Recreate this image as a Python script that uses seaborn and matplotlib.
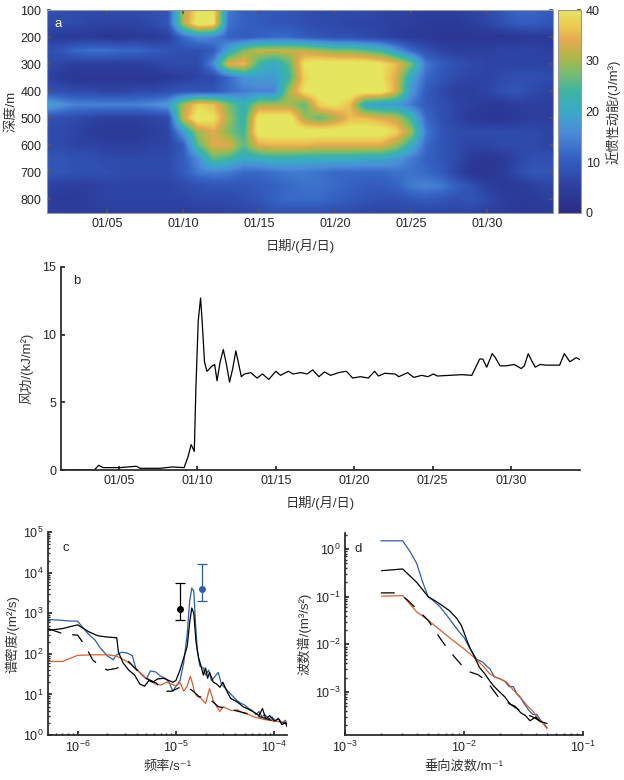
import numpy as np
import pandas as pd
import matplotlib
matplotlib.use("Agg")
import matplotlib.pyplot as plt
import seaborn as sns
from matplotlib.colors import LinearSegmentedColormap
from matplotlib.ticker import LogLocator, NullFormatter, FixedLocator, LogFormatterSciNotation

sns.set_theme(style="ticks")
plt.rcParams["font.family"] = ["Liberation Sans", "Noto Sans CJK SC", "DejaVu Sans"]
plt.rcParams["mathtext.fontset"] = "custom"
plt.rcParams["mathtext.rm"] = "Liberation Sans"
plt.rcParams["mathtext.it"] = "Liberation Sans:italic"
plt.rcParams["mathtext.bf"] = "Liberation Sans:bold"
plt.rcParams["lines.scale_dashes"] = False
plt.rcParams["xtick.direction"] = "in"
plt.rcParams["ytick.direction"] = "in"

# ---------------- data: panel a (near-inertial KE, J/m^3) ----------------
depths = [100, 150, 200, 250, 300, 350, 400, 450, 500, 550, 600, 650, 700, 750, 800, 850]
days = list(range(1, 36))
ke_100 = [8,8,7,7,7,7,7,8,9,30,40,40,14,11,10,9,9,8,7,7,7,7,6,6,5,5,5,5,6,7,9,12,12,10,9]
ke_150 = [7,7,7,6,6,6,6,7,9,30,42,40,13,11,10,9,9,8,7,7,6,6,6,5,5,4,4,4,5,6,8,10,10,9,8]
ke_200 = [5,4,4,4,3,3,4,4,5,12,16,15,11,10,11,12,12,10,9,8,8,7,6,5,4,4,3,3,3,3,3,3,4,4,4]
ke_250 = [8,9,12,13,13,12,12,10,9,8,8,10,20,28,32,32,32,32,30,28,28,26,24,18,12,8,6,5,5,5,6,6,6,5,5]
ke_300 = [7,6,5,5,5,5,5,6,7,7,7,16,34,36,24,20,26,40,42,42,42,42,40,36,28,14,10,8,7,6,6,6,6,6,6]
ke_350 = [6,4,3,3,3,3,3,3,4,5,6,7,12,17,18,18,24,38,42,42,42,42,40,34,20,12,9,7,6,6,7,8,8,7,7]
ke_400 = [8,8,7,7,6,6,7,7,8,9,9,9,12,14,15,15,30,40,42,42,42,42,42,34,18,10,7,5,5,6,8,9,7,6,6]
ke_450 = [20,17,15,15,15,15,15,16,18,30,38,36,28,22,30,30,30,26,38,40,36,20,18,18,14,10,8,6,5,4,4,5,5,5,5]
ke_500 = [8,8,7,6,5,5,5,6,7,32,42,40,30,22,42,42,42,30,26,30,36,36,34,32,24,12,8,6,4,3,3,4,5,5,5]
ke_550 = [7,7,6,4,4,4,4,5,6,18,30,34,28,24,42,42,42,42,42,42,42,42,42,38,30,14,9,7,7,7,7,7,7,6,6]
ke_600 = [7,7,6,6,5,5,5,6,6,10,26,34,34,26,34,35,35,35,34,34,34,34,34,30,22,12,9,7,6,6,7,7,7,6,6]
ke_650 = [9,9,8,8,7,7,7,7,7,10,16,26,24,20,21,22,22,21,21,21,21,20,20,18,14,11,9,7,4,3,4,6,8,8,7]
ke_700 = [9,9,8,8,8,7,7,7,7,10,14,15,14,12,12,13,14,14,13,12,12,12,12,13,13,12,10,6,3,3,4,7,9,9,8]
ke_750 = [6,5,5,5,6,6,6,6,6,7,8,9,9,9,10,11,12,13,13,12,11,10,10,11,14,15,14,11,8,5,4,4,5,6,6]
ke_800 = [5,4,4,5,6,6,6,6,6,6,7,7,7,8,9,11,12,12,12,11,10,9,8,8,9,10,9,8,9,7,5,4,4,5,5]
ke_850 = [5,5,5,5,5,5,5,5,5,5,5,5,6,6,7,8,8,8,8,7,7,6,6,6,6,6,6,6,6,5,5,4,4,4,4]

date_ticks = [5, 10, 15, 20, 25, 30]
date_labels = ["01/05", "01/10", "01/15", "01/20", "01/25", "01/30"]

# ---------------- data: panel b (wind work, kJ/m^2) ----------------
wind_day = [1.33, 2.5, 3.4, 3.7, 4.0, 5.05, 6.1, 6.35, 7.6, 8.4, 9.15, 9.4, 9.6, 9.8, 9.9, 10.05,
            10.2, 10.3, 10.45, 10.6, 10.7, 10.95, 11.1, 11.25, 11.45, 11.65, 11.85, 12.05, 12.25,
            12.45, 12.6, 12.8, 13.0, 13.4, 13.8, 14.15, 14.55, 15.0, 15.3, 15.8, 16.1, 16.6, 17.0,
            17.35, 17.75, 18.1, 18.5, 19.0, 19.5, 19.9, 20.4, 20.9, 21.3, 21.55, 21.95, 22.6, 22.85,
            23.4, 23.8, 24.3, 24.7, 25.05, 25.3, 26.1, 26.85, 27.5, 27.75, 28.0, 28.2, 28.45, 28.8,
            29.0, 29.3, 29.7, 30.2, 30.65, 30.85, 31.1, 31.35, 31.55, 31.85, 32.25, 33.1, 33.4,
            33.75, 34.15, 34.5]
wind_work = [0.0, 0.05, 0.0, 0.37, 0.2, 0.2, 0.3, 0.15, 0.15, 0.25, 0.2, 1.0, 1.9, 1.4, 6.0, 11.0,
             12.7, 11.0, 8.0, 7.3, 7.4, 7.7, 7.8, 6.6, 8.0, 8.9, 7.8, 6.5, 7.5,
             8.8, 8.0, 6.9, 7.1, 7.2, 6.8, 7.1, 6.7, 7.3, 7.0, 7.3, 7.1, 7.2, 7.1,
             7.4, 6.9, 7.25, 7.0, 7.2, 7.3, 6.8, 6.9, 6.8, 7.3, 6.95, 7.15, 7.1, 6.9,
             7.2, 6.85, 7.0, 6.9, 7.1, 6.95, 7.0, 7.05, 7.0, 7.6, 8.2, 8.2, 7.6, 8.6,
             8.3, 7.7, 7.7, 7.8, 7.5, 7.7, 8.6, 8.0, 7.6, 7.8, 7.75, 7.75, 8.6,
             8.0, 8.3, 8.1]

# ---------------- data: panel c (frequency spectra) ----------------
fc_blue = [5e-7, 6e-7, 8e-7, 1.0e-6, 1.15e-6, 1.3e-6, 1.5e-6, 1.7e-6, 2.0e-6, 2.3e-6, 2.5e-6, 2.8e-6,
           3.2e-6, 3.6e-6, 3.9e-6, 4.5e-6, 5.0e-6, 5.5e-6, 6.2e-6, 7.0e-6, 7.8e-6, 8.5e-6, 9.3e-6,
           1.0e-5, 1.1e-5, 1.2e-5, 1.3e-5, 1.38e-5, 1.45e-5, 1.52e-5, 1.58e-5, 1.65e-5, 1.75e-5,
           1.9e-5, 2.0e-5, 2.15e-5, 2.3e-5, 2.5e-5, 2.7e-5, 2.9e-5, 3.2e-5, 3.5e-5, 3.8e-5, 4.2e-5,
           4.6e-5, 5.0e-5, 5.5e-5, 6.0e-5, 6.5e-5, 7.0e-5, 7.5e-5, 8.0e-5, 8.8e-5, 9.5e-5, 1.03e-4,
           1.1e-4, 1.2e-4, 1.3e-4, 1.35e-4]
sc_blue = [700, 690, 650, 640, 420, 300, 220, 140, 90, 72, 95, 110,
           105, 90, 45, 30, 24, 38, 36, 28, 25, 20, 12,
           16, 22, 60, 300, 2000, 4200, 3500, 600, 120, 50,
           45, 30, 40, 22, 28, 35, 18, 14, 11, 9, 7,
           6, 5.5, 4.5, 4, 3.2, 3.8, 2.8, 3.2, 2.5, 2.8, 2.2,
           2.6, 2.0, 2.3, 1.8]
fc_black = [5e-7, 7e-7, 1.0e-6, 1.3e-6, 1.6e-6, 2.0e-6, 2.5e-6, 2.6e-6, 2.9e-6, 3.3e-6, 3.8e-6, 4.3e-6,
            4.8e-6, 5.3e-6, 5.8e-6, 6.5e-6, 7.5e-6, 8.5e-6, 9.3e-6, 1.0e-5, 1.1e-5, 1.2e-5, 1.3e-5,
            1.38e-5, 1.45e-5, 1.52e-5, 1.6e-5, 1.7e-5, 1.8e-5, 1.9e-5, 2.0e-5, 2.1e-5, 2.2e-5, 2.4e-5,
            2.6e-5, 2.8e-5, 3.0e-5, 3.3e-5, 3.6e-5, 4.0e-5, 4.4e-5, 4.8e-5, 5.3e-5, 5.8e-5, 6.4e-5,
            7.0e-5, 7.6e-5, 8.2e-5, 9.0e-5, 1.0e-4, 1.1e-4, 1.2e-4, 1.3e-4, 1.35e-4]
sc_black = [380, 420, 520, 350, 280, 260, 250, 110, 60, 40, 30, 18,
            16, 22, 20, 24, 25, 22, 20, 22, 40, 80, 150,
            600, 1350, 1000, 200, 80, 50, 30, 45, 25, 35, 20,
            18, 15, 20, 12, 8, 7, 6, 5, 4.5, 4, 3.5,
            3, 4.5, 2.5, 3, 2.2, 2.5, 1.8, 2.0, 1.6]
fc_orange = [5e-7, 7e-7, 1.0e-6, 1.5e-6, 2.0e-6, 2.5e-6, 3.0e-6, 3.5e-6, 4.0e-6, 4.5e-6, 5.0e-6, 5.5e-6,
             6.2e-6, 7.0e-6, 8.0e-6, 9.0e-6, 1.0e-5, 1.1e-5, 1.2e-5, 1.3e-5, 1.4e-5, 1.48e-5, 1.55e-5,
             1.65e-5, 1.8e-5, 2.0e-5, 2.2e-5, 2.4e-5, 2.6e-5, 2.8e-5, 3.0e-5, 3.3e-5, 3.7e-5, 4.2e-5,
             4.8e-5, 5.5e-5, 6.2e-5, 7.0e-5, 8.0e-5, 9.0e-5, 1.0e-4, 1.15e-4, 1.35e-4]
sc_orange = [65, 65, 92, 95, 95, 88, 70, 55, 40, 32, 25, 22,
             18, 17, 20, 18, 16, 20, 12, 16, 28, 18, 11,
             9, 8, 6, 14, 7, 5, 3.8, 5, 4.5, 4, 4.2,
             3.5, 3.2, 2.8, 2.6, 2.4, 2.3, 2.2, 2.1, 2.0]
fc_dash = [5e-7, 6.8e-7, 8e-7, 1.0e-6, 1.18e-6, 1.43e-6, 1.74e-6, 2.0e-6, 2.5e-6, 3.3e-6, 4.0e-6, 5.0e-6,
           6.3e-6, 7.5e-6, 9.0e-6, 1.1e-5, 1.3e-5, 1.5e-5, 1.7e-5, 2.0e-5, 2.3e-5, 2.7e-5, 3.2e-5,
           4.0e-5, 5.0e-5, 6.5e-5, 8.0e-5, 1.0e-4, 1.35e-4]
sc_dash = [420, 325, 300, 290, 165, 70, 48, 40, 44, 65, 40, 25,
           19, 12, 12, 15, 15, 12, 9, 8, 7, 5, 4.5,
           4, 3.5, 3, 2.6, 2.2, 1.9]
err_f = [1.1e-5, 1.83e-5]
err_s = [1300, 4000]
err_lo = [680, 2050]
err_hi = [5500, 16000]

# ---------------- data: panel d (vertical wavenumber spectra) ----------------
kd_blue = [2.0e-3, 3.05e-3, 3.5e-3, 4e-3, 4.5e-3, 5e-3, 5.6e-3, 6.3e-3, 7.2e-3, 8.1e-3, 9e-3, 1e-2,
           1.1e-2, 1.2e-2, 1.28e-2, 1.35e-2, 1.45e-2, 1.55e-2, 1.65e-2, 1.8e-2, 2.0e-2, 2.2e-2,
           2.4e-2, 2.6e-2, 2.8e-2, 3.0e-2, 3.2e-2, 3.5e-2, 3.8e-2, 4.1e-2, 4.4e-2, 4.7e-2, 5e-2]
sd_blue = [1.48, 1.48, 0.9, 0.5, 0.2, 0.1, 0.08, 0.061, 0.04, 0.027, 0.019, 0.014,
           0.009, 0.0063, 0.0048, 0.0046, 0.0042, 0.0035, 0.0031, 0.0021, 0.0019, 0.0017,
           0.0013, 0.0013, 0.0009, 0.00075, 0.00058, 0.00042, 0.00034, 0.00034, 0.00026, 0.00022, 0.00018]
kd_black = [2.03e-3, 3.05e-3, 4e-3, 5e-3, 5.8e-3, 6.7e-3, 7.6e-3, 8.7e-3, 9.5e-3, 1e-2, 1.06e-2, 1.13e-2,
            1.25e-2, 1.35e-2, 1.5e-2, 1.65e-2, 1.8e-2, 2.0e-2, 2.2e-2, 2.45e-2, 2.7e-2, 3.0e-2,
            3.3e-2, 3.6e-2, 4.0e-2, 4.4e-2, 5e-2]
sd_black = [0.35, 0.38, 0.2, 0.1, 0.08, 0.063, 0.05, 0.035, 0.025, 0.018, 0.012, 0.0081,
            0.005, 0.0033, 0.0024, 0.0017, 0.0013, 0.001, 0.0008, 0.00056, 0.0005, 0.00037,
            0.00032, 0.00025, 0.0003, 0.00024, 0.00022]
kd_orange = [2.03e-3, 3.05e-3, 4e-3, 5e-3, 6.3e-3, 8.1e-3, 1e-2, 1.15e-2, 1.3e-2, 1.45e-2, 1.65e-2,
             1.8e-2, 2e-2, 2.3e-2, 2.6e-2, 2.9e-2, 3.4e-2, 3.8e-2, 4.1e-2, 4.5e-2, 5e-2]
sd_orange = [0.102, 0.105, 0.048, 0.032, 0.02, 0.012, 0.0081, 0.006, 0.0046, 0.0035, 0.0024,
             0.0021, 0.0019, 0.0016, 0.0011, 0.00085, 0.00052, 0.0004, 0.0003, 0.00024, 0.00017]
kd_dash = [2e-3, 2.8e-3, 3.35e-3, 4.1e-3, 5e-3, 5.9e-3, 7.1e-3, 8.3e-3, 1.05e-2, 1.32e-2, 1.55e-2,
           1.94e-2, 2.45e-2, 3e-2, 4e-2, 5e-2]
sd_dash = [0.12, 0.12, 0.085, 0.052, 0.032, 0.017, 0.0088, 0.0055, 0.0028, 0.0023, 0.0017,
           8e-4, 5.6e-4, 4e-4, 2.8e-4, 2e-4]

BLUE = "#2d5fa9"
ORANGE = "#d8602f"
LABEL_C = "#333333"

parula_like = LinearSegmentedColormap.from_list(
    "parula_like",
    [(0.00, "#2a2c82"), (0.12, "#2c3e9e"), (0.28, "#3563c4"), (0.40, "#4c8cd8"),
     (0.50, "#3aa9c9"), (0.60, "#3db5a2"), (0.70, "#80bc6b"), (0.76, "#aab84a"),
     (0.85, "#e2a94f"), (0.92, "#ecc852"), (1.00, "#e6e65e")])

fig = plt.figure(figsize=(6.24, 7.80), dpi=100)

# ---------------- panel a ----------------
axa = fig.add_axes([0.0753, 0.727, 0.8107, 0.260])
grid = np.array([ke_100, ke_150, ke_200, ke_250, ke_300, ke_350, ke_400, ke_450,
                 ke_500, ke_550, ke_600, ke_650, ke_700, ke_750, ke_800, ke_850], dtype=float)
im = axa.imshow(grid, extent=[days[0] - 0.5, days[-1] + 0.5, depths[-1] + 25, depths[0] - 25],
                aspect="auto", cmap=parula_like, vmin=0, vmax=40,
                interpolation="bilinear", interpolation_stage="data", origin="upper")
axa.set_xlim(1.05, 34.34)
axa.set_ylim(850, 100)
axa.set_xticks(date_ticks)
axa.set_xticklabels(date_labels)
axa.set_yticks([100, 200, 300, 400, 500, 600, 700, 800])
axa.tick_params(axis="both", which="both", direction="in", top=True, right=True,
                labelsize=9, length=3, color="#555555", pad=4)
for s in axa.spines.values():
    s.set_color("#999999")
    s.set_linewidth(0.8)
axa.set_xlabel("日期/(月/日)", fontsize=9.5, color=LABEL_C, labelpad=6)
axa.set_ylabel("深度/m", fontsize=9.5, color=LABEL_C, labelpad=2)
axa.text(0.014, 0.93, "a", transform=axa.transAxes, color="white", fontsize=9.5, va="center")

cax = fig.add_axes([0.894, 0.727, 0.037, 0.260])
cb = fig.colorbar(im, cax=cax, ticks=[0, 10, 20, 30, 40])
cb.outline.set_edgecolor("#999999")
cb.outline.set_linewidth(0.8)
cax.tick_params(labelsize=9, direction="in", length=3, color="#555555")
cax.set_ylabel("近惯性动能/(J/m³)", fontsize=9.5, color=LABEL_C, labelpad=4)

# ---------------- panel b ----------------
axb = fig.add_axes([0.0978, 0.397, 0.8317, 0.261])
df_b = pd.DataFrame({"day": wind_day, "work": wind_work})
sns.lineplot(data=df_b, x="day", y="work", ax=axb, color="black", lw=0.9, estimator=None)
axb.set_xlim(1.3, 34.4)
axb.set_ylim(0, 15)
axb.set_xticks(date_ticks)
axb.set_xticklabels(date_labels)
axb.set_yticks([0, 5, 10, 15])
axb.tick_params(direction="in", labelsize=9, length=3)
sns.despine(ax=axb)
axb.set_xlabel("日期/(月/日)", fontsize=9.5, color=LABEL_C, labelpad=6)
axb.set_ylabel("风功/(kJ/m²)", fontsize=9.5, color=LABEL_C, labelpad=6)
axb.text(0.023, 0.93, "b", transform=axb.transAxes, fontsize=9.5, va="center")

# ---------------- panel c ----------------
axc = fig.add_axes([0.077, 0.0577, 0.383, 0.260])
sns.lineplot(x=fc_blue, y=sc_blue, ax=axc, color=BLUE, lw=0.9, estimator=None)
sns.lineplot(x=fc_orange, y=sc_orange, ax=axc, color=ORANGE, lw=0.9, estimator=None)
sns.lineplot(x=fc_black, y=sc_black, ax=axc, color="black", lw=0.9, estimator=None)
sns.lineplot(x=fc_dash, y=sc_dash, ax=axc, color="black", lw=0.9, estimator=None,
             linestyle=(0, (10, 8)))
axc.set_xscale("log")
axc.set_yscale("log")
axc.errorbar([err_f[0]], [err_s[0]],
             yerr=[[err_s[0] - err_lo[0]], [err_hi[0] - err_s[0]]],
             fmt="o", color="black", ms=4, capsize=3.5, elinewidth=0.9, capthick=0.9)
axc.errorbar([err_f[1]], [err_s[1]],
             yerr=[[err_s[1] - err_lo[1]], [err_hi[1] - err_s[1]]],
             fmt="o", color=BLUE, ms=4, capsize=3.5, elinewidth=0.9, capthick=0.9)
axc.set_xlim(5e-7, 1.35e-4)
axc.set_ylim(1, 1e5)
axc.xaxis.set_major_locator(FixedLocator([1e-6, 1e-5, 1e-4]))
axc.yaxis.set_major_locator(FixedLocator([1e0, 1e1, 1e2, 1e3, 1e4, 1e5]))
axc.xaxis.set_major_formatter(LogFormatterSciNotation())
axc.yaxis.set_major_formatter(LogFormatterSciNotation())
axc.xaxis.set_minor_locator(LogLocator(base=10, subs=np.arange(2, 10), numticks=20))
axc.yaxis.set_minor_locator(LogLocator(base=10, subs=np.arange(2, 10), numticks=20))
axc.xaxis.set_minor_formatter(NullFormatter())
axc.yaxis.set_minor_formatter(NullFormatter())
axc.tick_params(which="major", direction="in", labelsize=9, length=3)
axc.tick_params(which="minor", direction="in", length=1.6)
sns.despine(ax=axc)
axc.set_xlabel("频率/s⁻¹", fontsize=9.5, color=LABEL_C, labelpad=4)
axc.set_ylabel("谱密度/(m²/s)", fontsize=9.5, color=LABEL_C, labelpad=2)
axc.text(0.06, 0.92, "c", transform=axc.transAxes, fontsize=9.5, va="center")

# ---------------- panel d ----------------
axd = fig.add_axes([0.553, 0.0577, 0.381, 0.259])
sns.lineplot(x=kd_blue, y=sd_blue, ax=axd, color=BLUE, lw=0.9, estimator=None)
sns.lineplot(x=kd_orange, y=sd_orange, ax=axd, color=ORANGE, lw=0.9, estimator=None)
sns.lineplot(x=kd_black, y=sd_black, ax=axd, color="black", lw=0.9, estimator=None)
sns.lineplot(x=kd_dash, y=sd_dash, ax=axd, color="black", lw=0.9, estimator=None,
             linestyle=(0, (10, 8)))
axd.set_xscale("log")
axd.set_yscale("log")
axd.set_xlim(1e-3, 1e-1)
axd.set_ylim(1.26e-4, 2.16)
axd.xaxis.set_major_locator(FixedLocator([1e-3, 1e-2, 1e-1]))
axd.yaxis.set_major_locator(FixedLocator([1e-3, 1e-2, 1e-1, 1e0]))
axd.xaxis.set_major_formatter(LogFormatterSciNotation())
axd.yaxis.set_major_formatter(LogFormatterSciNotation())
axd.xaxis.set_minor_locator(LogLocator(base=10, subs=np.arange(2, 10), numticks=20))
axd.yaxis.set_minor_locator(LogLocator(base=10, subs=np.arange(2, 10), numticks=20))
axd.xaxis.set_minor_formatter(NullFormatter())
axd.yaxis.set_minor_formatter(NullFormatter())
axd.tick_params(which="major", direction="in", labelsize=9, length=3)
axd.tick_params(which="minor", direction="in", length=1.6)
sns.despine(ax=axd)
axd.set_xlabel("垂向波数/m⁻¹", fontsize=9.5, color=LABEL_C, labelpad=4)
axd.set_ylabel("波数谱/(m³/s²)", fontsize=9.5, color=LABEL_C, labelpad=2)
axd.text(0.04, 0.92, "d", transform=axd.transAxes, fontsize=9.5, va="center")

fig.savefig("out.png", dpi=100, facecolor="white")
